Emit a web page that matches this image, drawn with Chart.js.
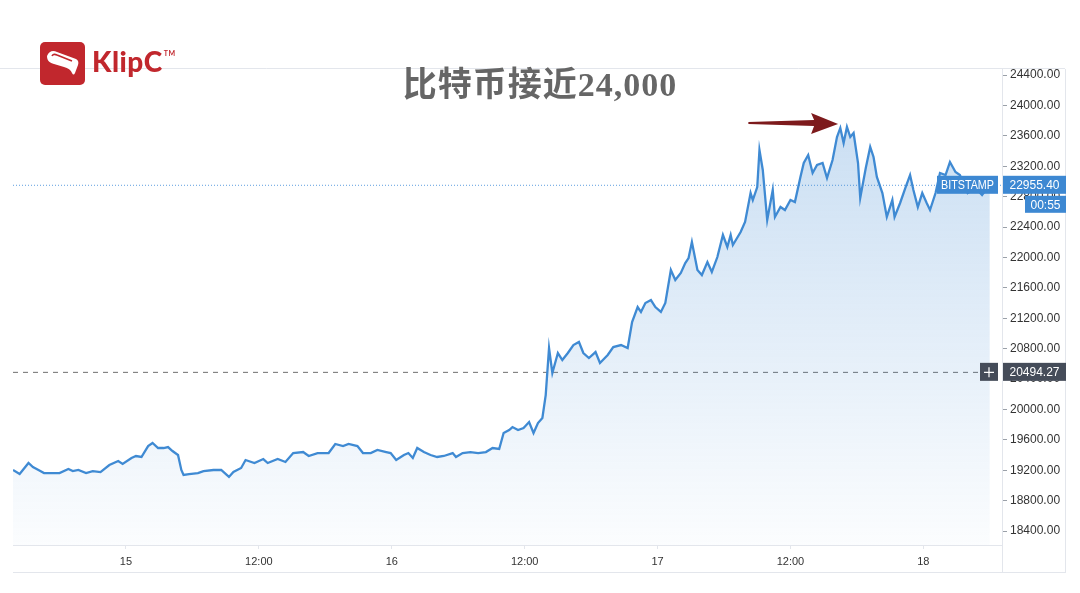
<!DOCTYPE html>
<html>
<head>
<meta charset="utf-8">
<script src="https://cdn.jsdelivr.net/npm/chart.js@4.4.1/dist/chart.umd.min.js"></script>
<style>
  html, body { margin: 0; padding: 0; background: #fff; }
  #wrap { position: relative; width: 1080px; height: 593px; overflow: hidden; }
  #c { position: absolute; left: 0; top: 0; }
  #logo { position: absolute; left: 40px; top: 42px; width: 45px; height: 43px; background: #c1272d; border-radius: 5px; }
  #brand { position: absolute; left: 92px; top: 44px; font-family: Lato, Roboto, sans-serif; font-weight: 900; font-size: 28px; color: #c1272d; letter-spacing: 0.5px; }
  #brand sup { font-size: 7px; position: relative; top: -6px; margin-left: 1px; font-weight: 700; }
  #title { position: absolute; left: 0; width: 1080px; top: 57px; text-align: center; font-family: "Liberation Serif", "Noto Sans CJK SC", serif; font-weight: 700; font-size: 34px; color: #666; letter-spacing: 1px; }
</style>
</head>
<body>
<div id="wrap">
  <canvas id="c" width="1080" height="593"></canvas>
  <div id="logo">
    <svg width="45" height="43" viewBox="0 0 45 43">
      <path d="M7 14 C9 9 13 8 17 10 L36 17 C38 18 39 20 38 23 L35 31 C34 33 33 33 32 31 C31 28 28 26 24 25 L14 22 C10 21 7 19 7 14 Z" fill="#fff"/>
      <path d="M12 14 C13 12 15 12 17 13 L32 19" stroke="#c1272d" stroke-width="1.6" fill="none"/>
    </svg>
  </div>
  <div id="brand">KlipC<sup>TM</sup></div>
  <div id="title">比特币接近24,000</div>
</div>
<script>
// hours counted from 15th 00:00
const hours = [-10.2,-9.6,-8.8,-8.4,-7.9,-7.4,-6.8,-6.0,-5.2,-4.8,-4.3,-3.6,-3.0,-2.3,-1.5,-0.7,-0.3,0.5,0.9,1.4,2.0,2.4,2.9,3.4,3.8,4.2,4.7,5.0,5.2,5.7,6.5,7.0,7.9,8.6,9.3,9.7,10.4,10.8,11.6,12.4,12.8,13.7,
  14.4,15.1,16.0,16.5,17.3,18.3,18.9,19.6,20.1,20.9,21.4,22.1,22.7,23.5,23.9,24.4,25.1,25.5,25.9,26.3,26.9,27.5,28.1,28.7,29.5,29.8,30.4,31.1,31.8,32.5,
  33.1,33.7,34.1,34.6,34.9,35.4,35.9,36.4,36.8,37.2,37.6,37.9,38.2,38.5,39.0,39.4,39.9,40.4,40.9,41.3,41.8,42.4,42.8,43.5,44.0,44.7,45.3,45.7,46.2,46.5,
  46.9,47.4,47.8,48.3,48.7,49.2,49.6,50.1,50.5,50.8,51.1,51.6,52.0,52.5,52.9,53.4,53.9,54.3,54.6,54.8,55.5,55.9,56.4,56.6,57.0,57.2,57.5,57.9,58.4,58.6,
  59.1,59.5,60.0,60.4,60.9,61.2,61.6,62.0,62.4,62.9,63.3,63.8,64.2,64.5,64.8,65.1,65.4,65.7,66.1,66.3,66.8,67.2,67.5,67.8,68.3,68.7,69.2,69.4,69.9,70.4,
  70.8,71.1,71.5,71.9,72.3,72.6,73.1,73.5,74.0,74.4,74.9,75.3,76.0,76.7,77.3,78.0];
const prices = [19203,19150,19295,19242,19203,19163,19163,19163,19216,19189,19203,19163,19189,19176,19268,19321,19282,19361,19387,19374,19518,19558,19492,19492,19505,19453,19400,19203,19137,19150,19163,19189,19203,19203,19111,19176,19229,19334,19295,19347,19295,19347,
  19308,19426,19439,19387,19426,19426,19545,19518,19545,19518,19426,19426,19466,19439,19426,19334,19400,19426,19361,19492,19439,19400,19374,19387,19426,19374,19426,19439,19426,19439,
  19492,19479,19689,19729,19768,19729,19755,19834,19689,19821,19887,20189,20808,20479,20742,20650,20742,20847,20887,20742,20676,20755,20611,20716,20821,20847,20808,21150,21347,21282,
  21400,21439,21347,21282,21400,21834,21703,21795,21926,21992,22203,21834,21768,21939,21808,22005,22295,22137,22295,22163,22334,22466,22847,22755,22926,23413,23150,22492,22887,22532,
  22663,22624,22755,22729,23058,23242,23347,23111,23216,23242,23045,23282,23584,23703,23505,23716,23584,23637,23242,22782,23176,23453,23321,23058,22847,22532,22755,22532,22716,22926,
  23084,22887,22663,22847,22716,22624,22847,23111,23084,23255,23124,23084,22847,22913,22821,22955];

const tickHours = [0, 12, 24, 36, 48, 60, 72];
const tickLabels = ['15', '12:00', '16', '12:00', '17', '12:00', '18'];
const priceTicks = [18400,18800,19200,19600,20000,20400,20800,21200,21600,22000,22400,22800,23200,23600,24000,24400];

const lastPrice = 22955.40;
const markPrice = 20494.27;
const exchange = 'BITSTAMP';
const countdown = '00:55';
const arrowFrom = [56.2, 23768];
const arrowTo = [64.3, 23768];

const points = hours.map((h, i) => ({ x: h, y: prices[i] }));

function tag(ctx, x, y, w, h, bg, text) {
  ctx.fillStyle = bg;
  ctx.fillRect(x, y, w, h);
  ctx.fillStyle = '#fff';
  ctx.textBaseline = 'middle';
  ctx.textAlign = 'center';
  ctx.fillText(text, x + w / 2, y + h / 2 + 1, w - 8);
}

const overlay = {
  id: 'overlay',
  beforeDatasetsDraw(chart) {
    const { ctx, chartArea: a, scales } = chart;
    const yl = scales.y.getPixelForValue(lastPrice);
    const ym = scales.y.getPixelForValue(markPrice);
    ctx.save();
    ctx.strokeStyle = '#5f9fdf';
    ctx.lineWidth = 1;
    ctx.setLineDash([1, 2]);
    ctx.beginPath(); ctx.moveTo(a.left, yl + 0.5); ctx.lineTo(a.right, yl + 0.5); ctx.stroke();
    ctx.strokeStyle = '#6f6f6f';
    ctx.setLineDash([5, 5]);
    ctx.beginPath(); ctx.moveTo(a.left, ym + 0.5); ctx.lineTo(a.right, ym + 0.5); ctx.stroke();
    ctx.restore();
  },
  afterDraw(chart) {
    const { ctx, chartArea: a, scales } = chart;
    ctx.save();
    // frame
    ctx.strokeStyle = '#e3e6ec';
    ctx.lineWidth = 1;
    ctx.beginPath();
    ctx.moveTo(0, a.top - 0.5); ctx.lineTo(a.right + 63, a.top - 0.5);
    ctx.moveTo(a.left, a.bottom + 27.5); ctx.lineTo(a.right + 63, a.bottom + 27.5);
    ctx.moveTo(a.right + 63.5, a.top); ctx.lineTo(a.right + 63.5, a.bottom + 28);
    ctx.moveTo(a.right + 0.5, a.top); ctx.lineTo(a.right + 0.5, a.bottom + 28);
    ctx.stroke();

    // price tags
    const yl = scales.y.getPixelForValue(lastPrice);
    const ym = scales.y.getPixelForValue(markPrice);
    ctx.font = '12px "Liberation Sans", Arial, sans-serif';
    tag(ctx, a.right - 65, yl - 9, 61, 18, '#3d88d2', exchange);
    tag(ctx, a.right + 1, yl - 9, 63, 18, '#3d88d2', lastPrice.toFixed(2));
    tag(ctx, a.right + 23, yl + 11, 41, 17, '#3d88d2', countdown);
    tag(ctx, a.right + 1, ym - 9, 63, 18, '#454c59', markPrice.toFixed(2));
    ctx.fillStyle = '#454c59';
    ctx.fillRect(a.right - 22, ym - 9, 18, 18);
    ctx.strokeStyle = '#fff';
    ctx.lineWidth = 1.2;
    ctx.beginPath();
    ctx.moveTo(a.right - 18, ym + 0.5); ctx.lineTo(a.right - 8, ym + 0.5);
    ctx.moveTo(a.right - 13, ym - 4.5); ctx.lineTo(a.right - 13, ym + 5.5);
    ctx.stroke();

    // arrow
    const x0 = scales.x.getPixelForValue(arrowFrom[0]);
    const y0 = scales.y.getPixelForValue(arrowFrom[1]);
    const x1 = scales.x.getPixelForValue(arrowTo[0]);
    const y1 = scales.y.getPixelForValue(arrowTo[1]);
    const hx = x1 - 24;
    ctx.fillStyle = '#7d1a1c';
    ctx.beginPath();
    ctx.moveTo(x0, y0 - 1);
    ctx.lineTo(hx, y1 - 3);
    ctx.lineTo(hx - 3, y1 - 10);
    ctx.lineTo(x1, y1 + 1);
    ctx.lineTo(hx - 3, y1 + 11);
    ctx.lineTo(hx, y1 + 3);
    ctx.lineTo(x0, y0 + 1);
    ctx.closePath();
    ctx.fill();
    ctx.restore();
  }
};

new Chart(document.getElementById('c'), {
  type: 'line',
  data: {
    datasets: [{
      data: points,
      borderColor: '#3f8ad3',
      borderWidth: 2.3,
      pointRadius: 0,
      tension: 0,
      fill: 'start',
      backgroundColor(context) {
        const a = context.chart.chartArea;
        if (!a) return 'rgba(61,136,210,0.15)';
        const g = context.chart.ctx.createLinearGradient(0, a.top, 0, a.bottom);
        g.addColorStop(0, 'rgba(61,136,210,0.30)');
        g.addColorStop(1, 'rgba(61,136,210,0.02)');
        return g;
      }
    }]
  },
  options: {
    responsive: false,
    animation: false,
    layout: { padding: { left: 13, top: 69, right: 15, bottom: 21 } },
    plugins: { legend: { display: false }, tooltip: { enabled: false } },
    scales: {
      x: {
        type: 'linear',
        min: -10.2,
        max: 79.1,
        afterBuildTicks(axis) { axis.ticks = tickHours.map(v => ({ value: v })); },
        afterFit(axis) { axis.height = 27; },
        ticks: {
          autoSkip: false,
          maxRotation: 0,
          color: '#333',
          padding: 6,
          font: { family: '"Liberation Sans", Arial, sans-serif', size: 11 },
          callback(v) { return tickLabels[tickHours.indexOf(v)]; }
        },
        grid: { drawOnChartArea: false, tickLength: 4, color: '#e3e6ec' },
        border: { color: '#e3e6ec' }
      },
      y: {
        position: 'right',
        min: 18216,
        max: 24479,
        afterBuildTicks(axis) { axis.ticks = priceTicks.map(v => ({ value: v })); },
        afterFit(axis) { axis.width = 63; },
        ticks: {
          color: '#333',
          padding: 3,
          font: { family: '"Liberation Sans", Arial, sans-serif', size: 12 },
          callback(v) { return v.toFixed(2); }
        },
        grid: { drawOnChartArea: false, tickLength: 5, color: '#9aa0a8' },
        border: { color: '#e3e6ec' }
      }
    }
  },
  plugins: [overlay]
});
</script>
</body>
</html>
